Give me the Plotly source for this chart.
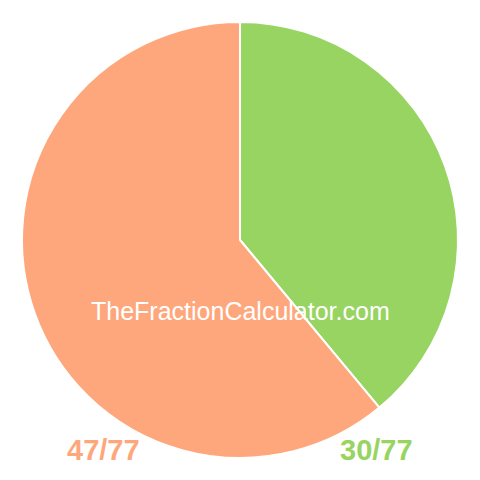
import plotly.graph_objects as go

labels = ["30/77", "47/77"]
values = [30, 47]
colors = ["#98D462", "#FFA77C"]

# the page body adds an 8px margin, so positions below are shifted up/left by 8px
OFF = 8
W = H = 480

fig = go.Figure()

fig.add_trace(go.Pie(
    labels=labels,
    values=values,
    sort=False,
    direction="clockwise",
    rotation=0,
    marker=dict(colors=colors, line=dict(color="white", width=2)),
    textinfo="none",
    hoverinfo="label",
    domain=dict(x=[(22 - OFF) / W, (458 - OFF) / W],
                y=[1 - (458 - OFF) / H, 1 - (22 - OFF) / H]),
    showlegend=False,
))

# watermark across the middle of the pie
fig.add_annotation(
    text="TheFractionCalculator.com",
    x=(240 - OFF) / W, y=1 - (311 - OFF) / H, xref="paper", yref="paper",
    xanchor="center", yanchor="middle",
    showarrow=False,
    font=dict(family="Liberation Sans, Arial", size=25, color="white"),
)

# fraction labels under the pie
fig.add_annotation(
    text="<b>" + labels[1] + "</b>",
    x=(103 - OFF) / W, y=1 - (450 - OFF) / H, xref="paper", yref="paper",
    xanchor="center", yanchor="middle",
    showarrow=False,
    font=dict(family="Liberation Sans, Arial", size=29, color=colors[1]),
)
fig.add_annotation(
    text="<b>" + labels[0] + "</b>",
    x=(376 - OFF) / W, y=1 - (450 - OFF) / H, xref="paper", yref="paper",
    xanchor="center", yanchor="middle",
    showarrow=False,
    font=dict(family="Liberation Sans, Arial", size=29, color=colors[0]),
)

fig.update_layout(
    width=W,
    height=H,
    margin=dict(l=0, r=0, t=0, b=0),
    paper_bgcolor="white",
    plot_bgcolor="white",
)

fig.write_html("out.html")
